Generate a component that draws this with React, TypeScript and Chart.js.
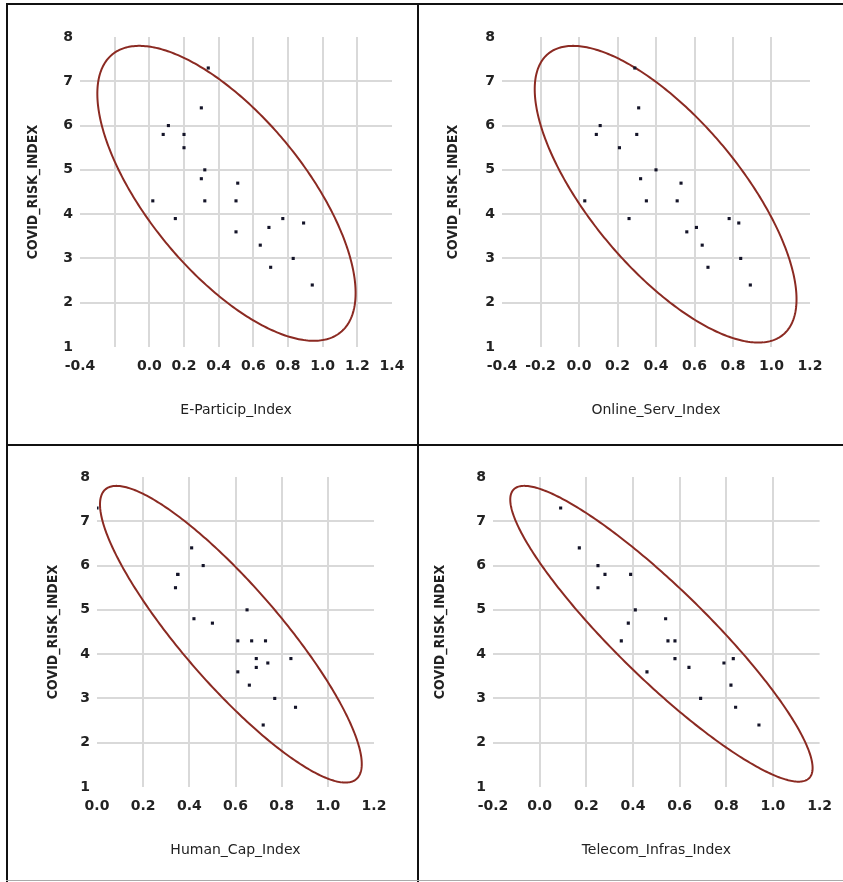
import React, { useEffect, useRef } from 'react';
import { Chart, registerables } from 'chart.js';

Chart.register(...registerables);

// ---- data ----
const covidRisk = [7.3, 6.4, 6.0, 5.8, 5.8, 5.5, 5.0, 4.8, 4.7, 4.3, 4.3, 4.3, 3.9, 3.9, 3.8, 3.7, 3.6, 3.3, 3.0, 2.8, 2.4];
const eParticipIndex = [0.34, 0.30, 0.11, 0.08, 0.20, 0.20, 0.32, 0.30, 0.51, 0.02, 0.32, 0.50, 0.15, 0.77, 0.89, 0.69, 0.50, 0.64, 0.83, 0.70, 0.94];
const onlineServIndex = [0.29, 0.31, 0.11, 0.09, 0.30, 0.21, 0.40, 0.32, 0.53, 0.03, 0.35, 0.51, 0.26, 0.78, 0.83, 0.61, 0.56, 0.64, 0.84, 0.67, 0.89];
const humanCapIndex = [0.00, 0.41, 0.46, 0.35, 0.35, 0.34, 0.65, 0.42, 0.50, 0.61, 0.67, 0.73, 0.69, 0.84, 0.74, 0.69, 0.61, 0.66, 0.77, 0.86, 0.72];
const telecomInfrasIndex = [0.09, 0.17, 0.25, 0.28, 0.39, 0.25, 0.41, 0.54, 0.38, 0.35, 0.55, 0.58, 0.58, 0.83, 0.79, 0.64, 0.46, 0.82, 0.69, 0.84, 0.94];

const xTitles = ['E-Particip_Index', 'Online_Serv_Index', 'Human_Cap_Index', 'Telecom_Infras_Index'];
const yTitle = 'COVID_RISK_INDEX';
const xMins = [-0.4, -0.4, 0.0, -0.2];
const xMaxs = [1.4, 1.2, 1.2, 1.2];
const xStep = 0.2;
const yMin = 1;
const yMax = 8;
const yStep = 1;
const hiddenXTickLabels = [[-0.2], [], [], []];

// ellipse key values: centre, rightmost point, top y
const ellipseCenters = [[0.445, 4.47], [0.45, 4.45], [0.58, 4.45], [0.522, 4.46]];
const ellipseRightPoints = [[1.19, 2.22], [1.13, 2.08], [1.147, 1.52], [1.17, 1.43]];
const ellipseTopY = [7.8, 7.8, 7.8, 7.8];

const xSeries = [eParticipIndex, onlineServIndex, humanCapIndex, telecomInfrasIndex];

// ---- layout (page pixels) ----
const PANELS = [
  { x: 8, y: 5, w: 409, h: 439, L: 80, T: 37, R: 392, B: 347, yTitleX: 33, xTitleY: 410 },
  { x: 419, y: 5, w: 424, h: 439, L: 502, T: 37, R: 810, B: 347, yTitleX: 453, xTitleY: 410 },
  { x: 8, y: 446, w: 409, h: 434, L: 97, T: 477, R: 374, B: 787, yTitleX: 53, xTitleY: 850 },
  { x: 419, y: 446, w: 424, h: 434, L: 493, T: 477, R: 821, B: 787, yTitleX: 440, xTitleY: 850 },
];

const GRID = '#d9d9d9';
const TICK_COLOR = '#222';
const ELLIPSE_COLOR = '#8b2a22';
const TICK_FONT = { family: '"DejaVu Sans"', size: 14, weight: 'bold' as const };
const YTITLE_FONT = { family: '"DejaVu Sans Condensed", "DejaVu Sans"', size: 14, weight: 'bold' as const };
const XTITLE_FONT = { family: '"DejaVu Sans"', size: 14, weight: 'normal' as const };

const ellipsePlugin = {
  id: 'confEllipse',
  beforeDatasetsDraw(chart: any, _args: any, opts: any) {
    if (!opts || !opts.center) return;
    const xs = chart.scales.x;
    const ys = chart.scales.y;
    const [cx, cy] = opts.center;
    const [rx, ry] = opts.right;
    const ux = rx - cx;
    const uy = ry - cy;
    const a = opts.topY - cy;
    const h = Math.sqrt(Math.max(a * a - uy * uy, 0));
    const ctx = chart.ctx;
    ctx.save();
    ctx.beginPath();
    const N = 360;
    for (let i = 0; i <= N; i++) {
      const t = (i / N) * Math.PI * 2;
      const x = cx + ux * Math.cos(t);
      const y = cy + uy * Math.cos(t) + h * Math.sin(t);
      const px = xs.getPixelForValue(x);
      const py = ys.getPixelForValue(y);
      if (i === 0) ctx.moveTo(px, py);
      else ctx.lineTo(px, py);
    }
    ctx.closePath();
    ctx.strokeStyle = opts.color;
    ctx.lineWidth = opts.width;
    ctx.stroke();
    ctx.restore();
  },
};

function Panel({ idx }: { idx: number }) {
  const ref = useRef<HTMLCanvasElement>(null);
  const p = PANELS[idx];

  useEffect(() => {
    if (!ref.current) return;
    const xmin = xMins[idx];
    const xmax = xMaxs[idx];
    const near = (a: number, b: number) => Math.abs(a - b) < 1e-6;
    const yLh = YTITLE_FONT.size * 1.2;
    const xLh = XTITLE_FONT.size * 1.2;

    const chart = new Chart(ref.current, {
      type: 'scatter',
      data: {
        datasets: [
          {
            data: xSeries[idx].map((x, i) => ({ x, y: covidRisk[i] })),
            pointStyle: 'rect',
            pointRadius: 2.2,
            pointHoverRadius: 2.2,
            backgroundColor: '#141428',
            borderWidth: 0,
          },
        ],
      },
      options: {
        responsive: false,
        animation: false,
        events: [],
        layout: {
          padding: { left: 0, top: p.T - p.y, right: p.x + p.w - p.R, bottom: 0 },
        },
        plugins: {
          legend: { display: false },
          tooltip: { enabled: false },
          confEllipse: {
            center: ellipseCenters[idx],
            right: ellipseRightPoints[idx],
            topY: ellipseTopY[idx],
            color: ELLIPSE_COLOR,
            width: 2,
          },
        } as any,
        scales: {
          x: {
            type: 'linear',
            min: xmin,
            max: xmax,
            border: { display: false },
            grid: {
              drawTicks: false,
              lineWidth: 2,
              color: (c: any) =>
                c.tick && (near(c.tick.value, xmin) || near(c.tick.value, xmax)) ? 'rgba(0,0,0,0)' : GRID,
            },
            ticks: {
              stepSize: xStep,
              autoSkip: false,
              maxRotation: 0,
              padding: 11,
              color: TICK_COLOR,
              font: TICK_FONT,
              callback: (v: any) => {
                const n = Number(v);
                if (hiddenXTickLabels[idx].some((h) => near(h, n))) return '';
                if (near(n, 0)) return '0.0';
                return n.toFixed(1);
              },
            },
            title: {
              display: true,
              text: xTitles[idx],
              color: '#222',
              font: XTITLE_FONT,
              padding: { top: 0, bottom: p.y + p.h - p.xTitleY - xLh / 2 },
            },
            afterFit: (s: any) => {
              s.height = p.y + p.h - p.B;
            },
          },
          y: {
            type: 'linear',
            min: yMin,
            max: yMax,
            border: { display: false },
            grid: {
              drawTicks: false,
              lineWidth: 2,
              color: (c: any) =>
                c.tick && (near(c.tick.value, yMin) || near(c.tick.value, yMax)) ? 'rgba(0,0,0,0)' : GRID,
            },
            ticks: {
              stepSize: yStep,
              autoSkip: false,
              padding: 7,
              color: TICK_COLOR,
              font: TICK_FONT,
            },
            title: {
              display: true,
              text: yTitle,
              color: '#222',
              font: YTITLE_FONT,
              padding: { top: p.yTitleX - p.x - yLh / 2, bottom: 0 },
            },
            afterFit: (s: any) => {
              s.width = p.L - p.x;
            },
          },
        },
      },
      plugins: [ellipsePlugin],
    } as any);
    return () => chart.destroy();
  }, [idx]);

  return (
    <canvas
      ref={ref}
      width={p.w}
      height={p.h}
      style={{ position: 'absolute', left: p.x, top: p.y, width: p.w, height: p.h }}
    />
  );
}

const lineStyle = (left: number, top: number, width: number, height: number, bg: string): React.CSSProperties => ({
  position: 'absolute',
  left,
  top,
  width,
  height,
  background: bg,
});

export default function App() {
  return (
    <div style={{ position: 'absolute', left: 0, top: 0, width: 843, height: 882, background: '#fff', overflow: 'hidden' }}>
      {PANELS.map((_, i) => (
        <Panel key={i} idx={i} />
      ))}
      <div style={lineStyle(6, 3, 837, 2, '#111')} />
      <div style={lineStyle(6, 3, 2, 879, '#111')} />
      <div style={lineStyle(417, 3, 2, 879, '#111')} />
      <div style={lineStyle(6, 444, 837, 2, '#111')} />
      <div style={lineStyle(6, 880, 837, 1, '#aaa')} />
    </div>
  );
}
